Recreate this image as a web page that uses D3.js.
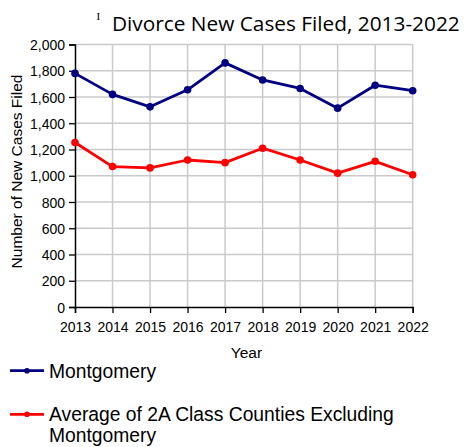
<!DOCTYPE html>
<html>
<head>
<meta charset="utf-8">
<script src="https://cdn.jsdelivr.net/npm/d3@7"></script>
<style>
  body { margin:0; background:#fff; }
  svg text { font-family: "Liberation Sans", Arial, sans-serif; fill:#000; }
</style>
</head>
<body>
<svg id="chart" width="464" height="447"></svg>
<script>
// chart data
var years = [2013, 2014, 2015, 2016, 2017, 2018, 2019, 2020, 2021, 2022];
var montgomery = [1780, 1620, 1525, 1655, 1860, 1730, 1665, 1515, 1690, 1648];
var avg2A = [1253, 1070, 1060, 1120, 1100, 1210, 1120, 1020, 1110, 1008];
var yTicks = [0, 200, 400, 600, 800, 1000, 1200, 1400, 1600, 1800, 2000];
var seriesNames = ['Montgomery', 'Average of 2A Class Counties Excluding', 'Montgomery'];

var svg = d3.select('#chart');
var m = {left:75, right:412.7, top:44.5, bottom:307};

var x = d3.scalePoint().domain(years).range([m.left, m.right]);
var y = d3.scaleLinear().domain([0, 2000]).range([m.bottom, m.top]);

// grid
var grid = svg.append('g').attr('stroke', '#cacaca').attr('stroke-width', 1.5);
grid.selectAll('line.h').data(yTicks.slice(1)).enter().append('line')
  .attr('x1', m.left).attr('x2', m.right)
  .attr('y1', function(d) { return y(d); }).attr('y2', function(d) { return y(d); });
grid.selectAll('line.v').data(years.slice(1)).enter().append('line')
  .attr('y1', m.top).attr('y2', m.bottom)
  .attr('x1', function(d) { return x(d); }).attr('x2', function(d) { return x(d); });

// axes
var yAxis = svg.append('g').attr('transform', 'translate(' + m.left + ',0)')
  .call(d3.axisLeft(y).tickValues(yTicks).tickSize(6).tickPadding(4).tickFormat(d3.format(',')));
var xAxis = svg.append('g').attr('transform', 'translate(0,' + m.bottom + ')')
  .call(d3.axisBottom(x).tickSize(6).tickPadding(9));
[yAxis, xAxis].forEach(function(a) {
  a.select('.domain').attr('stroke', '#000').attr('stroke-width', 1.5);
  a.selectAll('.tick line').attr('stroke', '#000').attr('stroke-width', 1.3);
  a.selectAll('text').style('font-family', '"Liberation Sans", Arial, sans-serif').attr('font-size', 14).attr('fill', '#000');
});
yAxis.selectAll('.tick text').attr('dy', '0.36em');

// series
var series = [
  {values: montgomery, color: '#000080'},
  {values: avg2A, color: '#ff0000'}
];
var line = d3.line().x(function(d, i) { return x(years[i]); }).y(function(d) { return y(d); });
series.forEach(function(s) {
  svg.append('path').datum(s.values).attr('d', line)
    .attr('fill', 'none').attr('stroke', s.color).attr('stroke-width', 2.8).attr('stroke-linejoin', 'round');
  svg.selectAll(null).data(s.values).enter().append('circle')
    .attr('cx', function(d, i) { return x(years[i]); })
    .attr('cy', function(d) { return y(d); })
    .attr('r', 3.8).attr('fill', s.color);
});

// title
var title = svg.append('text').attr('x', 112).attr('y', 31)
  .style('font-family', '"Open Sans", "Noto Sans", sans-serif').attr('font-size', 22).attr('fill', '#111')
  .text('Divorce New Cases Filed, 2013-2022');
var tw = title.node().getComputedTextLength();
title.attr('font-size', 22 * 348 / tw);
svg.append('text').attr('x', 96.5).attr('y', 20)
  .style('font-family', '"Liberation Serif", serif').attr('font-size', 11).text('I');

// axis titles
svg.append('text').attr('transform', 'translate(22,171.5) rotate(-90)')
  .attr('text-anchor', 'middle').attr('font-size', 15.5).text('Number of New Cases Filed');
svg.append('text').attr('x', 246.5).attr('y', 358).attr('text-anchor', 'middle')
  .attr('font-size', 15.5).text('Year');

// legend
var legend = svg.append('g');
[{y: 370.7, color: '#000080'}, {y: 414.3, color: '#ff0000'}].forEach(function(l) {
  legend.append('line').attr('x1', 10).attr('x2', 44).attr('y1', l.y).attr('y2', l.y)
    .attr('stroke', l.color).attr('stroke-width', 2.8);
  legend.append('circle').attr('cx', 27).attr('cy', l.y).attr('r', 2.8).attr('fill', l.color);
});
legend.append('text').attr('x', 49).attr('y', 377.5).attr('font-size', 19.3).text(seriesNames[0]);
legend.append('text').attr('x', 49).attr('y', 420.8).attr('font-size', 19.3).text(seriesNames[1]);
legend.append('text').attr('x', 49).attr('y', 441.8).attr('font-size', 19.3).text(seriesNames[2]);
</script>
</body>
</html>
